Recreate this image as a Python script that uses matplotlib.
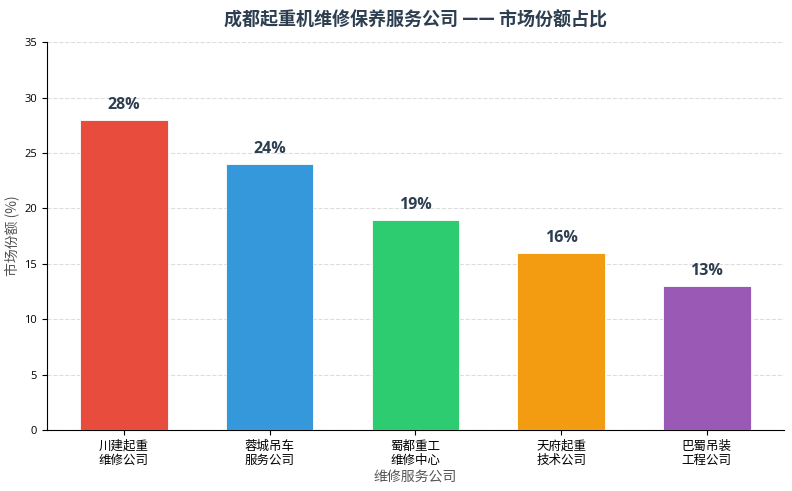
import matplotlib
matplotlib.use('Agg')
import matplotlib.pyplot as plt

plt.rcParams['font.family'] = ['Open Sans', 'Noto Sans CJK SC', 'DejaVu Sans']

companies = ['川建起重\n维修公司', '蓉城吊车\n服务公司', '蜀都重工\n维修中心', '天府起重\n技术公司', '巴蜀吊装\n工程公司']
shares = [28, 24, 19, 16, 13]
colors = ['#e74c3c', '#3498db', '#2ecc71', '#f39c12', '#9b59b6']

CJK = ['Noto Sans CJK SC', 'DejaVu Sans']


def main():
    fig = plt.figure(figsize=(7.92, 4.91), dpi=100)
    ax = fig.add_axes([0.059, 0.124, 0.931, 0.79])

    x = range(len(companies))
    bars = ax.bar(x, shares, width=0.6, color=colors,
                  edgecolor='white', linewidth=0.6, zorder=3)

    for b, v in zip(bars, shares):
        ax.text(b.get_x() + b.get_width() / 2, v + 0.6, f'{v}%',
                ha='center', va='bottom', fontsize=11.5, fontweight='bold',
                color='#2c3e50')

    ax.set_title('成都起重机维修保养服务公司 —— 市场份额占比', fontsize=13,
                 fontweight='bold', color='#2c3e50', pad=12, family=CJK)

    # Y axis
    ax.set_ylim(0, 35)
    ax.set_yticks(range(0, 36, 5))
    ax.set_ylabel('市场份额 (%)', fontsize=10, color='#555555', family=CJK)
    ax.tick_params(axis='y', labelsize=8)

    # X axis
    ax.set_xticks(list(x))
    ax.set_xticklabels(companies, fontsize=9, linespacing=1.1, family=CJK)
    ax.set_xlabel('维修服务公司', fontsize=10, color='#555555', labelpad=2,
                  family=CJK)

    ax.grid(axis='y', linestyle='--', color='#dddddd', linewidth=0.8, zorder=0)
    ax.spines['top'].set_visible(False)
    ax.spines['right'].set_visible(False)

    fig.savefig('out.png', dpi=100)


if __name__ == '__main__':
    main()
